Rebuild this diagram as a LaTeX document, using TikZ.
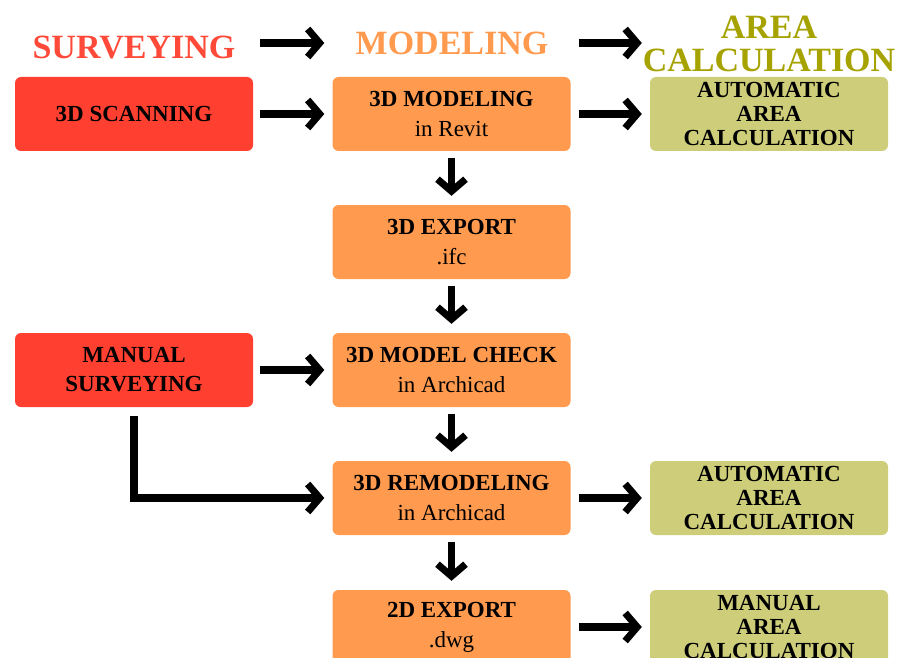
\documentclass[tikz,border=0pt]{standalone}
\usepackage{fontspec}
\setmainfont{Liberation Serif}
\usetikzlibrary{arrows.meta}

\definecolor{survred}{HTML}{FF3F2F}
\definecolor{survtitle}{HTML}{FF4A3A}
\definecolor{modorange}{HTML}{FF9A4F}
\definecolor{areaolive}{HTML}{CDCD7A}
\definecolor{areatitle}{HTML}{A6A200}

\tikzset{
  box/.style={rounded corners=6pt, minimum width=238pt, minimum height=74pt,
    inner sep=0pt, align=center, font=\fontsize{23}{30}\selectfont},
  survbox/.style={box, fill=survred, font=\fontsize{23}{29}\selectfont\bfseries},
  modbox/.style={box, fill=modorange},
  areabox/.style={box, fill=areaolive, font=\fontsize{23}{24}\selectfont\bfseries},
  heading/.style={align=center, font=\fontsize{34}{33}\selectfont\bfseries},
  flow/.style={line width=7.5pt, -{Straight Barb[length=12pt, width=28pt, line width=7pt]}},
}

\begin{document}
\begin{tikzpicture}[x=1pt, y=-1pt, line join=miter]
    \useasboundingbox (0,0) rectangle (897,658);

    % headings
    \node[heading, text=survtitle] (surv) at (134, 48) {SURVEYING};
    \node[heading, text=modorange] (mod) at (452, 43) {MODELING};
    \node[heading, text=areatitle] (area) at (769, 44) {AREA\\CALCULATION};

    % surveying column
    \node[survbox] (scan) at (134, 114) {3D SCANNING};
    \node[survbox] (manual) at (134, 370) {MANUAL\\SURVEYING};

    % modeling column
    \node[modbox] (revit) at (451.5, 114) {\textbf{3D MODELING}\\in Revit};
    \node[modbox] (ifc) at (451.5, 242) {\textbf{3D EXPORT}\\.ifc};
    \node[modbox] (check) at (451.5, 370) {\textbf{3D MODEL CHECK}\\in Archicad};
    \node[modbox] (remodel) at (451.5, 498) {\textbf{3D REMODELING}\\in Archicad};
    \node[modbox] (dwg) at (451.5, 627) {\textbf{2D EXPORT}\\.dwg};

    % area calculation column
    \node[areabox] (autoA) at (769, 114) {AUTOMATIC\\AREA\\CALCULATION};
    \node[areabox] (autoB) at (769, 498) {AUTOMATIC\\AREA\\CALCULATION};
    \node[areabox] (manualA) at (769, 627) {MANUAL\\AREA\\CALCULATION};

    % arrows
    \draw[flow, shorten <=7pt, shorten >=8pt] (scan.east |- mod) -- (revit.west |- mod);
    \draw[flow, shorten <=8pt, shorten >=8pt] (revit.east |- mod) -- (autoA.west |- mod);
    \draw[flow, shorten <=7pt, shorten >=8pt] (scan) -- (revit);
    \draw[flow, shorten <=8pt, shorten >=8pt] (revit) -- (autoA);
    \draw[flow, shorten <=7pt, shorten >=8pt] (manual) -- (check);
    \draw[flow, shorten <=8pt, shorten >=8pt] (remodel) -- (autoB);
    \draw[flow, shorten <=8pt, shorten >=8pt] (dwg) -- (manualA);
    \draw[flow, shorten <=7pt, shorten >=9pt] (revit) -- (ifc);
    \draw[flow, shorten <=7pt, shorten >=9pt] (ifc) -- (check);
    \draw[flow, shorten <=7pt, shorten >=9pt] (check) -- (remodel);
    \draw[flow, shorten <=7pt, shorten >=9pt] (remodel) -- (dwg);
    \draw[flow, shorten <=9pt, shorten >=8pt] (manual.south) |- (remodel.west);
\end{tikzpicture}
\end{document}
